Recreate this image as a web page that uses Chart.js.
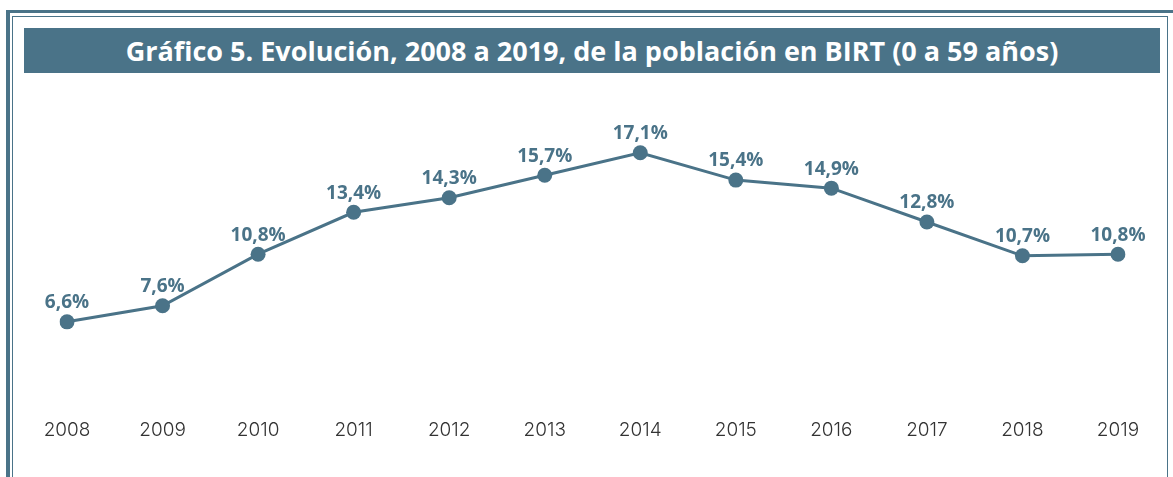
<!DOCTYPE html>
<html>
<head>
<meta charset="utf-8">
<script src="https://cdn.jsdelivr.net/npm/chart.js@4.4.0/dist/chart.umd.min.js"></script>
<style>
  html, body { margin: 0; padding: 0; background: #ffffff; }
  #page { position: relative; width: 1173px; height: 477px; overflow: hidden; }
  #outer { position: absolute; left: 6px; top: 10px; right: -10px; bottom: -10px;
           border-top: 3px solid #4a7388; border-left: 4px solid #4a7388; }
  #inner { position: absolute; left: 12px; top: 16px; width: 1154px; bottom: -10px;
           border: 1.5px solid #4a7388; }
  #title { position: absolute; left: 24px; top: 28px; width: 1136px; height: 45px;
           background: #4a7388; color: #ffffff; font: 700 27px "Open Sans", sans-serif;
           line-height: 45px; text-align: center; }
  #chart { position: absolute; left: 0; top: 0; }
</style>
</head>
<body>
<div id="page">
  <div id="outer"></div>
  <div id="inner"></div>
  <div id="title">Gráfico 5. Evolución, 2008 a 2019, de la población en BIRT (0 a 59 años)</div>
  <canvas id="chart" width="1173" height="477"></canvas>
</div>
<script>
const years = ['2008', '2009', '2010', '2011', '2012', '2013', '2014', '2015', '2016', '2017', '2018', '2019'];
const shares = [6.6, 7.6, 10.8, 13.4, 14.3, 15.7, 17.1, 15.4, 14.9, 12.8, 10.7, 10.8];

const mainColor = '#4a7388';

// etiquetas de valor encima de cada punto
const valueLabels = {
    id: 'valueLabels',
    afterDatasetsDraw(chart) {
        const ctx = chart.ctx;
        const meta = chart.getDatasetMeta(0);
        ctx.save();
        ctx.font = '700 19px "Open Sans", sans-serif';
        ctx.fillStyle = mainColor;
        ctx.textAlign = 'center';
        ctx.textBaseline = 'middle';
        meta.data.forEach(function (point, i) {
            const text = shares[i].toFixed(1).replace('.', ',') + '%';
            ctx.fillText(text, point.x, point.y - 19);
        });
        ctx.restore();
    }
};

new Chart(document.getElementById('chart'), {
    type: 'line',
    data: {
        labels: years,
        datasets: [{
            data: shares,
            borderColor: mainColor,
            backgroundColor: mainColor,
            borderWidth: 3,
            pointRadius: 7.5,
            pointHoverRadius: 7.5,
            pointBackgroundColor: mainColor,
            pointBorderWidth: 0,
            tension: 0
        }]
    },
    options: {
        responsive: false,
        animation: false,
        layout: {
            padding: { left: 67, right: 55, top: 101, bottom: 23 }
        },
        plugins: {
            legend: { display: false },
            tooltip: { enabled: false }
        },
        scales: {
            x: {
                offset: false,
                grid: { display: false, drawTicks: false },
                border: { display: false },
                ticks: {
                    padding: 12,
                    color: '#333333',
                    font: { family: 'Inter', size: 19, weight: 300, lineHeight: 1.2 },
                    maxRotation: 0,
                    autoSkip: false
                }
            },
            y: {
                display: false,
                min: 1.3,
                max: 20.31
            }
        }
    },
    plugins: [valueLabels]
});
</script>
</body>
</html>
